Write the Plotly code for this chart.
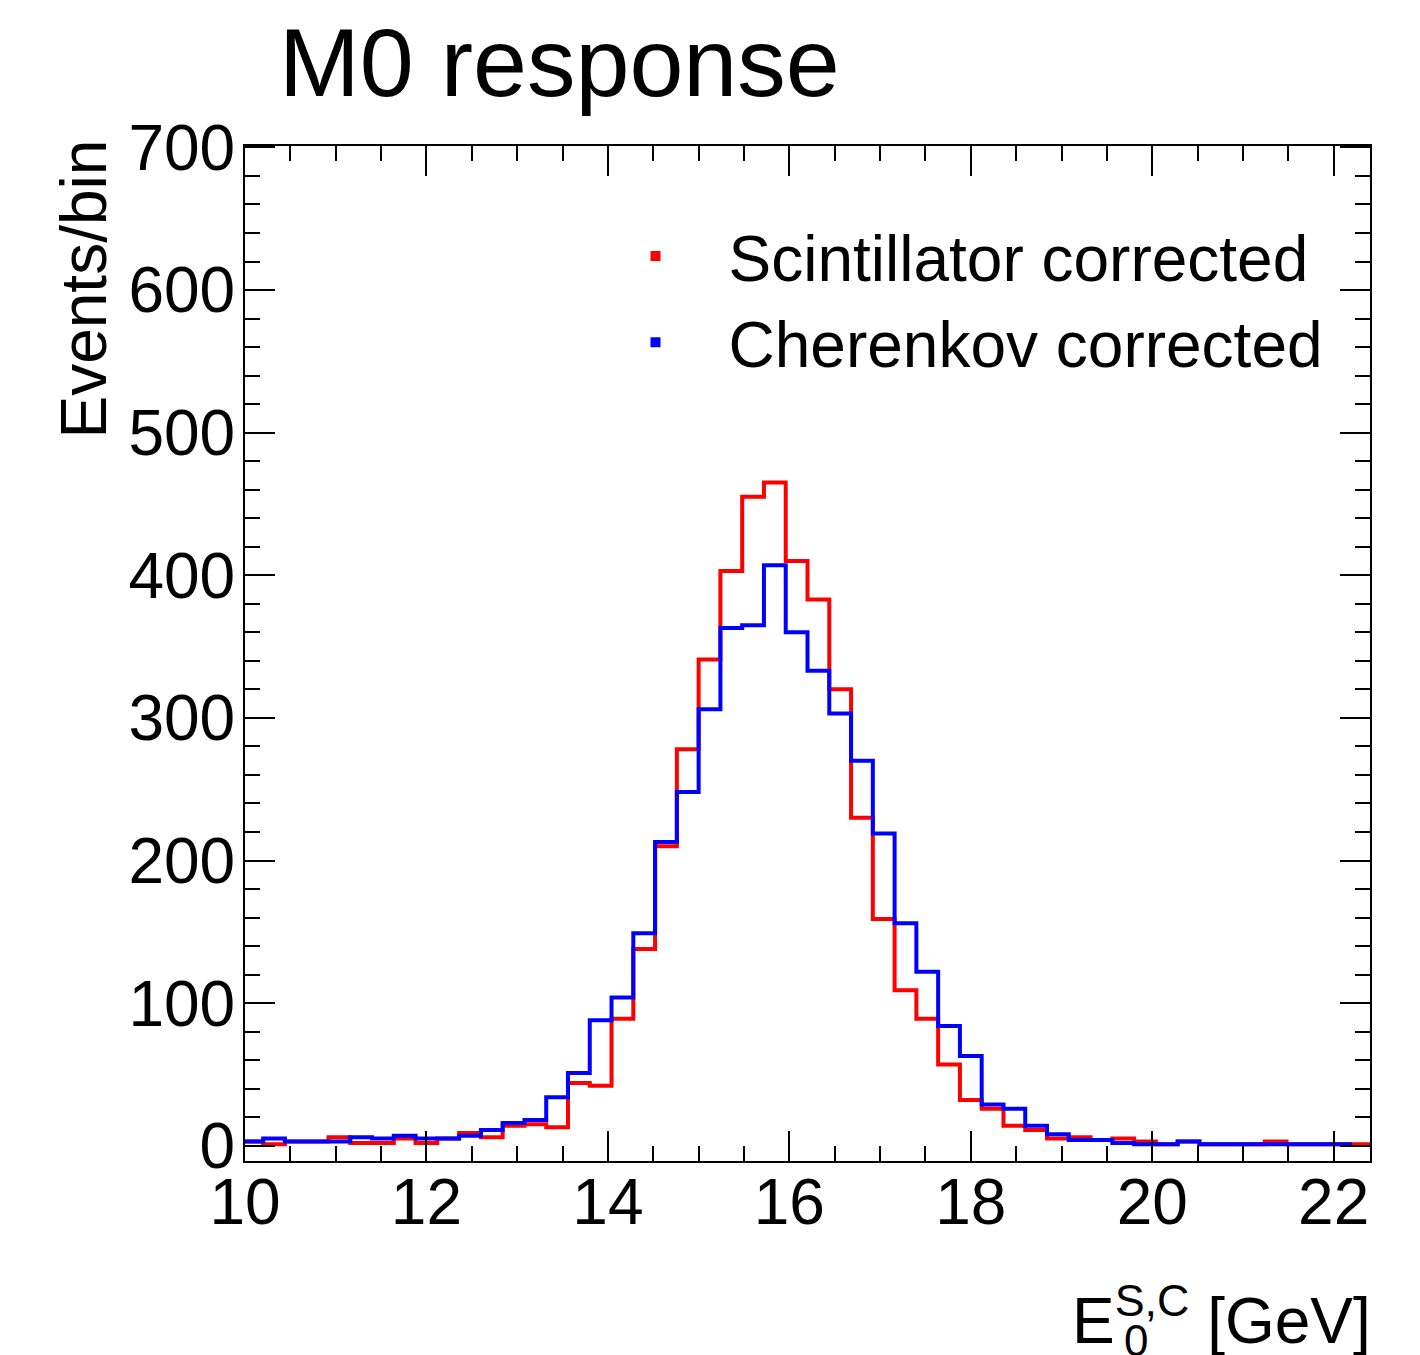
import plotly.graph_objects as go

# Histogram binning: 0.24 GeV bins
X_START = 9.96
BIN_WIDTH = 0.24

# Events per bin, Scintillator corrected (red)
scint_counts = [3, 1, 3, 3, 6, 2, 2, 5, 2, 5,
                9, 6, 14, 15, 13, 44, 42, 89, 138, 210,
                278, 341, 403, 455, 465, 410, 383, 320, 230, 159,
                109, 89, 57, 32, 26, 14, 11, 5, 6, 4,
                5, 3, 1, 3, 1, 1, 1, 3, 1, 1,
                1, 1]

# Events per bin, Cherenkov corrected (blue)
cher_counts = [3, 5, 3, 3, 3, 6, 5, 7, 5, 5,
               7, 11, 16, 18, 34, 51, 88, 104, 149, 213,
               248, 306, 363, 365, 407, 360, 333, 303, 270, 219,
               156, 122, 84, 63, 29, 26, 14, 8, 4, 4,
               2, 1, 1, 3, 1, 1, 1, 1, 1, 1,
               1]

series_names = ["Scintillator corrected", "Cherenkov corrected"]
series_colors = ["#ff0000", "#0000ff"]

x_ticks = [10, 12, 14, 16, 18, 20, 22]
y_ticks = [0, 100, 200, 300, 400, 500, 600, 700]

FONT = "Liberation Sans, Arial, Helvetica, sans-serif"


def step_xy(counts):
    edges = [X_START + BIN_WIDTH * k for k in range(len(counts) + 1)]
    ys = list(counts) + [counts[-1]]
    return edges, ys


fig = go.Figure()

for counts, name, color in zip([scint_counts, cher_counts], series_names, series_colors):
    xs, ys = step_xy(counts)
    fig.add_trace(go.Scatter(x=xs, y=ys, mode="lines", line=dict(color=color, width=4, shape="hv"),
                             showlegend=False, hoverinfo="skip"))

for name, color in zip(series_names, series_colors):
    fig.add_trace(go.Scatter(x=[None], y=[None], mode="markers", name=name,
                             marker=dict(symbol="square", size=10, color=color)))

axis_common = dict(
    showline=True, linecolor="black", linewidth=2, mirror="allticks",
    ticks="inside", ticklen=30, tickwidth=2, tickcolor="black",
    showgrid=False, zeroline=False,
    tickfont=dict(family=FONT, size=64, color="black"),
)

fig.update_xaxes(range=[10, 22.4], tickvals=x_ticks, ticktext=[str(v) for v in x_ticks],
                 ticklabelstandoff=-16,
                 minor=dict(dtick=0.5, tick0=10, ticks="inside", ticklen=15, tickwidth=2, tickcolor="black", showgrid=False),
                 **axis_common)
fig.update_yaxes(range=[-10.7, 701], tickvals=y_ticks, ticktext=[str(v) for v in y_ticks],
                 ticklabelstandoff=-5,
                 minor=dict(dtick=20, tick0=0, ticks="inside", ticklen=15, tickwidth=2, tickcolor="black", showgrid=False),
                 **axis_common)

fig.update_layout(
    width=1420, height=1355,
    margin=dict(l=245, r=50, t=146, b=194),
    plot_bgcolor="white", paper_bgcolor="white",
    font=dict(family=FONT, color="black"),
    title=dict(text="M0 response", font=dict(family=FONT, size=97, color="black"),
               x=279 / 1420, xanchor="left", xref="container",
               y=1 - 62 / 1355, yanchor="middle", yref="container"),
    legend=dict(x=0.300, xanchor="left", y=0.939, yanchor="top",
                font=dict(family=FONT, size=64, color="black"),
                itemwidth=136, bgcolor="rgba(0,0,0,0)", borderwidth=0),
    annotations=[
        dict(text="Events/bin", textangle=-90, xref="paper", yref="paper",
             x=-0.143, xanchor="center", y=1.008, yanchor="top", showarrow=False,
             font=dict(family=FONT, size=64, color="black")),
        dict(text="E<sup>S,C</sup> [GeV]", xref="paper", yref="paper",
             x=1.003, xanchor="right", y=-0.153, yanchor="middle", showarrow=False,
             font=dict(family=FONT, size=64, color="black")),
        dict(text="0", xref="paper", yref="paper",
             x=0.792, xanchor="center", y=-0.177, yanchor="middle", showarrow=False,
             font=dict(family=FONT, size=44, color="black")),
    ],
)

fig.write_html("out.html")
